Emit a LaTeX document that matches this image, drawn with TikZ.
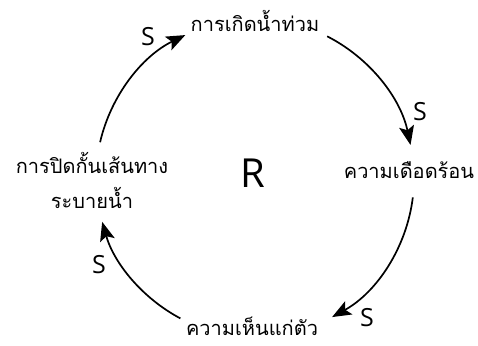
\documentclass[tikz,border=0pt]{standalone}
\usepackage{fontspec}
\setmainfont{Open Sans}
\newfontfamily\thaifont[Script=Thai]{Loma}
\usetikzlibrary{arrows.meta}
\begin{document}
\begin{tikzpicture}[x=1pt,y=1pt,
  thlabel/.style={font=\thaifont\fontsize{20}{24}\selectfont, inner sep=0pt, anchor=base},
  slabel/.style={font=\fontsize{25}{28}\selectfont, inner sep=0pt},
  loopedge/.style={line width=1.7pt, -{Stealth[length=19pt,width=15pt,inset=4pt]}}]
\useasboundingbox (0,0) rectangle (478,345);
\coordinate (C) at (255,167);
\node[thlabel] (flood) at (255,313) {การเกิดน้ำท่วม};
\node[thlabel] (trouble) at (409,166) {ความเดือดร้อน};
\node[thlabel] (selfish) at (252,10) {ความเห็นแก่ตัว};
\node[thlabel] (block1) at (92,171) {การปิดกั้นเส้นทาง};
\node[thlabel] (block2) at (92,136) {ระบายน้ำ};
\node[font=\fontsize{40}{42}\selectfont, inner sep=0pt] (R) at (253,172) {R};
\node[slabel] (s1) at (148,308) {S};
\node[slabel] (s2) at (420,233) {S};
\node[slabel] (s3) at (367,27) {S};
\node[slabel] (s4) at (99,80) {S};
\coordinate (a1) at ([shift={(167:159)}]C);
\coordinate (a2) at ([shift={(63:159)}]C);
\coordinate (a3) at ([shift={(-7:159)}]C);
\coordinate (a4) at ([shift={(-118:159)}]C);
\draw[loopedge] (a1) arc[start angle=167, end angle=116, radius=159];
\draw[loopedge] (a2) arc[start angle=63, end angle=12, radius=159];
\draw[loopedge] (a3) arc[start angle=-7, end angle=-61, radius=159];
\draw[loopedge] (a4) arc[start angle=-118, end angle=-164, radius=159];
\end{tikzpicture}
\end{document}
